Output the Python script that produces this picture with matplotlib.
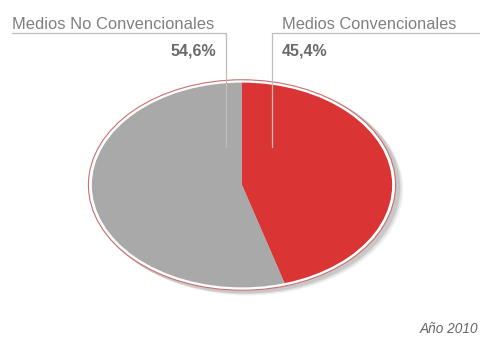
import matplotlib.pyplot as plt
from matplotlib.patches import Ellipse

# Share of advertising investment
labels = ['Medios Convencionales', 'Medios No Convencionales']
values = [45.4, 54.6]
colors = ['#db3434', '#a9a9a9']
pct_text = ['45,4%', '54,6%']
note = 'Año 2010'

W, H = 481, 338
fig = plt.figure(figsize=(W / 100, H / 100), dpi=100)
fig.patch.set_facecolor('white')

# pie axes: stretched box so the pie becomes an ellipse
cx, cy, rx, ry = 242, 185, 162, 111
pie_ax = fig.add_axes([(cx - rx) / W, (H - cy - ry) / H, 2 * rx / W, 2 * ry / H])

# soft shadow to the lower right
for k, a in enumerate([0.05, 0.08, 0.1]):
    off = 0.04 - k * 0.01
    pie_ax.add_patch(Ellipse((off, -off), 2.03, 2.03, color='black',
                             alpha=a, lw=0, zorder=0))

pie_ax.pie(values, colors=colors, startangle=90, counterclock=False,
           radius=0.985, wedgeprops=dict(linewidth=0, zorder=2))
pie_ax.add_patch(Ellipse((0, 0), 1.985, 1.985, fill=False, ec='white', lw=2.2, zorder=3))
pie_ax.add_patch(Ellipse((0, 0), 2.01, 2.01, fill=False, ec='#c9706e', lw=0.8, zorder=4))
pie_ax.set_aspect('auto')
pie_ax.set_xlim(-1.06, 1.06)
pie_ax.set_ylim(-1.06, 1.06)
pie_ax.axis('off')

# overlay in pixel coordinates for labels and leader lines
ax = fig.add_axes([0, 0, 1, 1], zorder=5)
ax.set_xlim(0, W)
ax.set_ylim(H, 0)
ax.axis('off')
ax.patch.set_alpha(0)

lc = '#bdbdbd'
ax.plot([12, 226, 226], [33, 33, 147], color=lc, lw=0.9)
ax.plot([W, 272, 272], [33, 33, 147], color=lc, lw=0.9)

tc = '#808080'
ax.text(12, 29, labels[1], fontsize=11.9, color=tc, family='Liberation Sans',
        ha='left', va='baseline')
ax.text(282, 29, labels[0], fontsize=11.8, color=tc, family='Liberation Sans',
        ha='left', va='baseline')
ax.text(216, 55, pct_text[1], fontsize=11.5, color='#6a6a6a', fontweight='bold',
        family='Liberation Sans', ha='right', va='baseline')
ax.text(282, 55, pct_text[0], fontsize=11.5, color='#6a6a6a', fontweight='bold',
        family='Liberation Sans', ha='left', va='baseline')
ax.text(478, 333, note, fontsize=9.8, color='#666666', style='italic',
        family='Liberation Sans', ha='right', va='baseline')

fig.savefig('out.png', dpi=100, facecolor='white')
